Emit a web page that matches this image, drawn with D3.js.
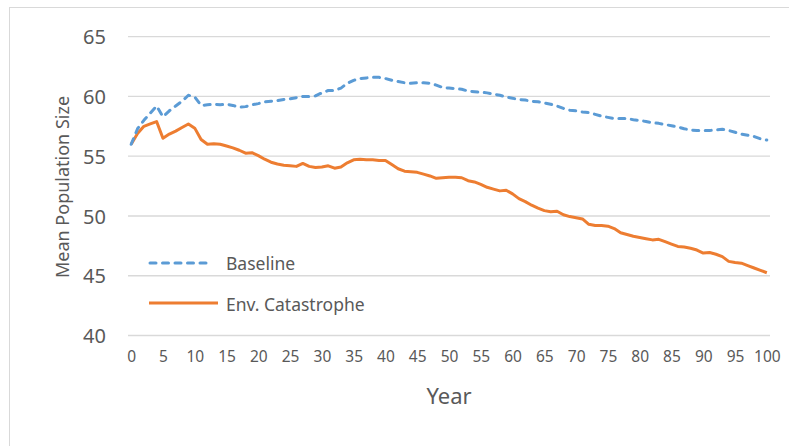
<!DOCTYPE html>
<html>
<head>
<meta charset="utf-8">
<script src="https://cdn.jsdelivr.net/npm/d3@7"></script>
<style>
  body { margin: 0; background: #fff; }
  svg text { font-family: "Noto Sans", "Open Sans", sans-serif; fill: #595959; }
</style>
</head>
<body>
<svg id="chart" width="789" height="446"></svg>
<script>
// mean population size per year
const years = d3.range(0, 101);
const baseline = [
  56.0, 57.3, 58.0, 58.6, 59.2, 58.3, 58.8, 59.2, 59.6, 60.1,
  59.95, 59.25, 59.3, 59.35, 59.3, 59.35, 59.25, 59.1, 59.15, 59.3,
  59.4, 59.55, 59.6, 59.65, 59.75, 59.8, 59.9, 60.0, 60.0, 60.05,
  60.3, 60.5, 60.5, 60.7, 61.1, 61.35, 61.5, 61.55, 61.6, 61.6,
  61.5, 61.35, 61.25, 61.15, 61.1, 61.15, 61.15, 61.1, 60.95, 60.75,
  60.7, 60.65, 60.6, 60.45, 60.4, 60.35, 60.3, 60.2, 60.1, 59.95,
  59.85, 59.75, 59.7, 59.6, 59.55, 59.45, 59.35, 59.2, 59.0, 58.85,
  58.8, 58.7, 58.65, 58.5, 58.35, 58.25, 58.15, 58.15, 58.15, 58.05,
  58.0, 57.9, 57.8, 57.75, 57.65, 57.55, 57.45, 57.3, 57.2, 57.15,
  57.15, 57.15, 57.2, 57.25, 57.15, 57.0, 56.85, 56.75, 56.65, 56.45,
  56.35
];
const catastrophe = [
  56.0, 56.9, 57.5, 57.7, 57.9, 56.5, 56.85, 57.1, 57.4, 57.7,
  57.35, 56.4, 56.0, 56.05, 56.0, 55.85, 55.7, 55.5, 55.25, 55.3,
  55.05, 54.75, 54.5, 54.35, 54.25, 54.2, 54.15, 54.4, 54.15, 54.05,
  54.1, 54.2, 54.0, 54.1, 54.45, 54.7, 54.75, 54.7, 54.7, 54.65,
  54.65, 54.3, 53.95, 53.75, 53.7, 53.65, 53.5, 53.35, 53.15, 53.2,
  53.25, 53.25, 53.2, 52.95, 52.85, 52.65, 52.4, 52.25, 52.1, 52.15,
  51.85, 51.45, 51.2, 50.9, 50.65, 50.45, 50.35, 50.4, 50.1, 49.95,
  49.85, 49.75, 49.3, 49.2, 49.2, 49.15, 48.95, 48.6, 48.45, 48.3,
  48.2, 48.1, 48.0, 48.05, 47.85, 47.65, 47.45, 47.4, 47.3, 47.15,
  46.9, 46.95, 46.8, 46.6, 46.2, 46.1, 46.05, 45.85, 45.65, 45.45,
  45.25
];
const seriesNames = ["Baseline", "Env. Catastrophe"];
const yTicks = [40, 45, 50, 55, 60, 65];
const xTicks = d3.range(0, 101, 5);

const svg = d3.select("#chart");

// chart frame, only left and top edges show in the picture
svg.append("rect")
  .attr("x", 9.5).attr("y", 7.5)
  .attr("width", 800).attr("height", 460)
  .attr("fill", "none").attr("stroke", "#d9d9d9");

// category axis: points sit in the middle of each slot
const x = d3.scaleLinear().domain([-0.5, 100.5]).range([128, 770]);
const y = d3.scaleLinear().domain([40, 65]).range([335.5, 36.7]);

svg.append("g")
  .selectAll("line")
  .data(yTicks)
  .enter()
  .append("line")
  .attr("x1", 128).attr("x2", 770)
  .attr("y1", d => y(d)).attr("y2", d => y(d))
  .attr("stroke", "#d9d9d9").attr("stroke-width", 1.3);

const yAxis = svg.append("g")
  .attr("transform", "translate(106,0)")
  .call(d3.axisLeft(y).tickValues(yTicks).tickSize(0).tickPadding(0));
yAxis.select(".domain").remove();
yAxis.selectAll("text")
  .attr("font-size", 20).attr("dy", "0.36em");

const xAxis = svg.append("g")
  .attr("transform", "translate(0,348)")
  .call(d3.axisBottom(x).tickValues(xTicks).tickSize(0).tickPadding(0));
xAxis.select(".domain").remove();
xAxis.selectAll("text")
  .attr("font-size", 15.5).attr("dy", "0.9em");

svg.append("text")
  .attr("x", 449).attr("y", 404)
  .attr("text-anchor", "middle")
  .attr("font-size", 22)
  .text("Year");

svg.append("text")
  .attr("transform", "translate(69,187) rotate(-90)")
  .attr("text-anchor", "middle")
  .attr("font-size", 18)
  .text("Mean Population Size");

const line = d3.line()
  .x((d, i) => x(years[i]))
  .y(d => y(d));

svg.append("path")
  .datum(catastrophe)
  .attr("d", line)
  .attr("fill", "none")
  .attr("stroke", "#ed7d31")
  .attr("stroke-width", 3)
  .attr("stroke-linejoin", "round");

svg.append("path")
  .datum(baseline)
  .attr("d", line)
  .attr("fill", "none")
  .attr("stroke", "#5b9bd5")
  .attr("stroke-width", 3)
  .attr("stroke-dasharray", "6,6.5")
  .attr("stroke-linecap", "round")
  .attr("stroke-linejoin", "round");

// legend sits inside the plot, lower left
const legend = svg.append("g");
legend.append("line")
  .attr("x1", 150).attr("x2", 212).attr("y1", 263).attr("y2", 263)
  .attr("stroke", "#5b9bd5").attr("stroke-width", 3)
  .attr("stroke-dasharray", "6,6.5").attr("stroke-linecap", "round");
legend.append("line")
  .attr("x1", 149).attr("x2", 218).attr("y1", 303).attr("y2", 303)
  .attr("stroke", "#ed7d31").attr("stroke-width", 3);
legend.selectAll("text")
  .data(seriesNames)
  .enter()
  .append("text")
  .attr("x", 226)
  .attr("y", (d, i) => 270 + i * 41)
  .attr("font-size", 17.5)
  .text(d => d);
</script>
</body>
</html>
